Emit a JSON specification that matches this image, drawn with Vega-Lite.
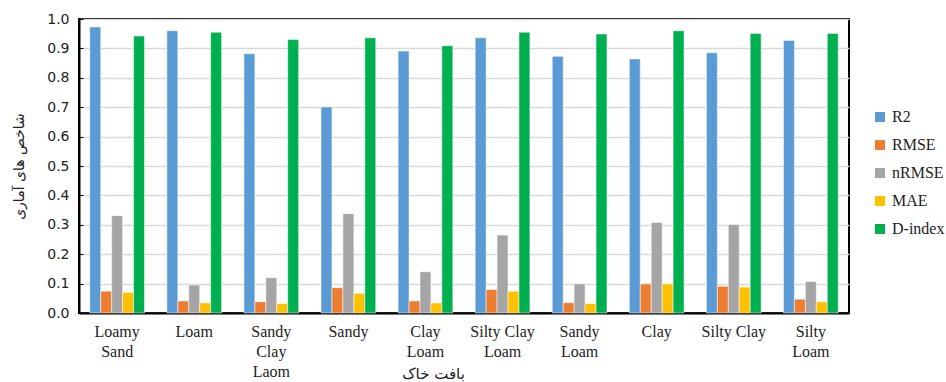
{
  "$schema": "https://vega.github.io/schema/vega-lite/v6.json",
  "width": 770,
  "height": 294,
  "autosize": {"type": "none"},
  "padding": {"left": 79, "top": 19, "right": 97, "bottom": 69},
  "background": "white",
  "config": {
    "view": {"stroke": "#000000", "strokeWidth": 2, "strokeOpacity": 1},
    "font": "Liberation Serif"
  },
  "data": {
    "values": [
      {"soil": "Loamy Sand", "metric": "R2", "value": 0.973},
      {"soil": "Loamy Sand", "metric": "RMSE", "value": 0.074},
      {"soil": "Loamy Sand", "metric": "nRMSE", "value": 0.331},
      {"soil": "Loamy Sand", "metric": "MAE", "value": 0.070},
      {"soil": "Loamy Sand", "metric": "D-index", "value": 0.942},
      {"soil": "Loam", "metric": "R2", "value": 0.960},
      {"soil": "Loam", "metric": "RMSE", "value": 0.041},
      {"soil": "Loam", "metric": "nRMSE", "value": 0.095},
      {"soil": "Loam", "metric": "MAE", "value": 0.034},
      {"soil": "Loam", "metric": "D-index", "value": 0.955},
      {"soil": "Sandy Clay Laom", "metric": "R2", "value": 0.882},
      {"soil": "Sandy Clay Laom", "metric": "RMSE", "value": 0.038},
      {"soil": "Sandy Clay Laom", "metric": "nRMSE", "value": 0.120},
      {"soil": "Sandy Clay Laom", "metric": "MAE", "value": 0.032},
      {"soil": "Sandy Clay Laom", "metric": "D-index", "value": 0.930},
      {"soil": "Sandy", "metric": "R2", "value": 0.701},
      {"soil": "Sandy", "metric": "RMSE", "value": 0.086},
      {"soil": "Sandy", "metric": "nRMSE", "value": 0.338},
      {"soil": "Sandy", "metric": "MAE", "value": 0.067},
      {"soil": "Sandy", "metric": "D-index", "value": 0.936},
      {"soil": "Clay Loam", "metric": "R2", "value": 0.891},
      {"soil": "Clay Loam", "metric": "RMSE", "value": 0.041},
      {"soil": "Clay Loam", "metric": "nRMSE", "value": 0.140},
      {"soil": "Clay Loam", "metric": "MAE", "value": 0.034},
      {"soil": "Clay Loam", "metric": "D-index", "value": 0.909},
      {"soil": "Silty Clay Loam", "metric": "R2", "value": 0.936},
      {"soil": "Silty Clay Loam", "metric": "RMSE", "value": 0.080},
      {"soil": "Silty Clay Loam", "metric": "nRMSE", "value": 0.265},
      {"soil": "Silty Clay Loam", "metric": "MAE", "value": 0.074},
      {"soil": "Silty Clay Loam", "metric": "D-index", "value": 0.955},
      {"soil": "Sandy Loam", "metric": "R2", "value": 0.873},
      {"soil": "Sandy Loam", "metric": "RMSE", "value": 0.035},
      {"soil": "Sandy Loam", "metric": "nRMSE", "value": 0.099},
      {"soil": "Sandy Loam", "metric": "MAE", "value": 0.032},
      {"soil": "Sandy Loam", "metric": "D-index", "value": 0.949},
      {"soil": "Clay", "metric": "R2", "value": 0.864},
      {"soil": "Clay", "metric": "RMSE", "value": 0.099},
      {"soil": "Clay", "metric": "nRMSE", "value": 0.308},
      {"soil": "Clay", "metric": "MAE", "value": 0.099},
      {"soil": "Clay", "metric": "D-index", "value": 0.960},
      {"soil": "Silty Clay", "metric": "R2", "value": 0.885},
      {"soil": "Silty Clay", "metric": "RMSE", "value": 0.091},
      {"soil": "Silty Clay", "metric": "nRMSE", "value": 0.301},
      {"soil": "Silty Clay", "metric": "MAE", "value": 0.088},
      {"soil": "Silty Clay", "metric": "D-index", "value": 0.951},
      {"soil": "Silty Loam", "metric": "R2", "value": 0.927},
      {"soil": "Silty Loam", "metric": "RMSE", "value": 0.047},
      {"soil": "Silty Loam", "metric": "nRMSE", "value": 0.107},
      {"soil": "Silty Loam", "metric": "MAE", "value": 0.038},
      {"soil": "Silty Loam", "metric": "D-index", "value": 0.951}
    ]
  },
  "mark": {"type": "bar", "stroke": "white", "strokeWidth": 0.5},
  "encoding": {
    "x": {
      "field": "soil",
      "type": "nominal",
      "sort": null,
      "scale": {"paddingInner": 0.29, "paddingOuter": 0.14},
      "axis": {
        "title": "بافت خاک",
        "titleFont": "DejaVu Sans",
        "titleFontSize": 15,
        "titleFontWeight": "normal",
        "titleColor": "#222",
        "titleBaseline": "bottom",
        "titleAlign": "center",
        "titleX": 354,
        "titleY": 68,
        "labelAngle": 0,
        "labelFont": "Liberation Serif",
        "labelFontSize": 16,
        "labelColor": "#222",
        "labelLineHeight": 20,
        "labelPadding": 10,
        "labelBaseline": "top",
        "labelExpr": "{'Loamy Sand':['Loamy','Sand'],'Loam':['Loam'],'Sandy Clay Laom':['Sandy','Clay','Laom'],'Sandy':['Sandy'],'Clay Loam':['Clay','Loam'],'Silty Clay Loam':['Silty Clay','Loam'],'Sandy Loam':['Sandy','Loam'],'Clay':['Clay'],'Silty Clay':['Silty Clay'],'Silty Loam':['Silty','Loam']}[datum.label]",
        "ticks": false,
        "domain": true,
        "domainColor": "black",
        "domainWidth": 2,
        "grid": false
      }
    },
    "xOffset": {
      "field": "metric",
      "type": "nominal",
      "sort": ["R2", "RMSE", "nRMSE", "MAE", "D-index"],
      "scale": {"paddingInner": 0, "paddingOuter": 0}
    },
    "y": {
      "field": "value",
      "type": "quantitative",
      "scale": {"domain": [0, 1]},
      "axis": {
        "title": "شاخص های آماری",
        "titleFont": "DejaVu Sans",
        "titleFontSize": 14,
        "titleFontWeight": "normal",
        "titleColor": "#222",
        "titlePadding": 20,
        "values": [0, 0.1, 0.2, 0.3, 0.4, 0.5, 0.6, 0.7, 0.8, 0.9, 1.0],
        "format": ".1f",
        "labelFont": "DejaVu Sans",
        "labelFontSize": 14,
        "labelColor": "#222",
        "labelPadding": 14,
        "tickSize": -4,
        "tickColor": "black",
        "domain": true,
        "domainColor": "black",
        "domainWidth": 2,
        "gridColor": "#d9d9d9",
        "gridWidth": 1.5
      }
    },
    "color": {
      "field": "metric",
      "type": "nominal",
      "sort": ["R2", "RMSE", "nRMSE", "MAE", "D-index"],
      "scale": {
        "domain": ["R2", "RMSE", "nRMSE", "MAE", "D-index"],
        "range": ["#5B9BD5", "#ED7D31", "#A5A5A5", "#FFC000", "#00B050"]
      },
      "legend": {
        "title": null,
        "orient": "none",
        "legendX": 793,
        "legendY": 90,
        "symbolType": "square",
        "symbolSize": 100,
        "symbolStrokeWidth": 0,
        "labelFont": "Liberation Serif",
        "labelFontSize": 16,
        "labelColor": "#222",
        "rowPadding": 12,
        "labelOffset": 4
      }
    }
  }
}
